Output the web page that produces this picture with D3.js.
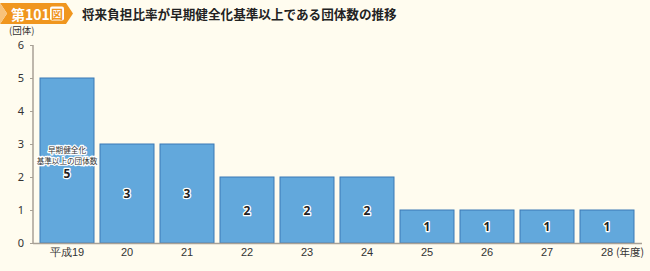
<!DOCTYPE html>
<html><head><meta charset="utf-8">
<script src="https://cdn.jsdelivr.net/npm/d3@7"></script>
<style>
html,body{margin:0;padding:0;background:#fffcef;}
svg{display:block;font-family:"Noto Sans CJK JP","Noto Sans",sans-serif;}
</style></head>
<body><svg id="c" width="650" height="271"></svg>
<script>
const categories = ["平成19","20","21","22","23","24","25","26","27","28"];
const values = [5,3,3,2,2,2,1,1,1,1];
const yTicks = [0,1,2,3,4,5,6];
const title = "将来負担比率が早期健全化基準以上である団体数の推移";
const badge = "第101";
const yUnit = "(団体)";
const xUnit = "(年度)";
const note = ["早期健全化","基準以上の団体数"];

const svg = d3.select("#c");
svg.append("rect").attr("width",650).attr("height",271).attr("fill","#fffcef");

// badge
svg.append("path").attr("d","M0,3 L66,3 L73,13.5 L66,24 L0,24 L7,13.5 Z").attr("fill","#f0961e");
svg.append("path").attr("d","M0,3 L7,13.5 L0,24 Z").attr("fill","#f8c27a");
svg.append("text").attr("x",11).attr("y",19.5).attr("fill","#fff").attr("font-size",14).attr("font-weight","bold").text(badge);
svg.append("rect").attr("x",50).attr("y",6.5).attr("width",14).attr("height",14).attr("rx",2).attr("fill","#fff");
svg.append("text").attr("x",57).attr("y",18.5).attr("text-anchor","middle").attr("fill","#f0961e").attr("font-size",12).attr("font-weight","bold").text("図");
svg.append("text").attr("x",82).attr("y",18.5).attr("fill","#222").attr("font-size",12.6).attr("font-weight","bold").text(title);

const x = d3.scaleBand().domain(categories).range([37,637]).paddingInner(0.1).paddingOuter(0.05);
const y = d3.scaleLinear().domain([0,6]).range([243,45]);

// bars
svg.selectAll("rect.bar").data(values).enter().append("rect").attr("class","bar")
  .attr("x",(d,i)=>x(categories[i])).attr("width",x.bandwidth())
  .attr("y",d=>y(d)).attr("height",d=>y(0)-y(d))
  .attr("fill","#62a8dc").attr("stroke","#3b78b5").attr("stroke-width",1);

// axes
const axisColor = "#a8a196";
const yAxis = svg.append("g").attr("transform","translate(33,0)")
  .call(d3.axisLeft(y).tickValues(yTicks).tickSize(3).tickPadding(6).tickFormat(d3.format("d")));
yAxis.select(".domain").attr("stroke",axisColor).attr("stroke-width",1.5).attr("d","M0,45V243");
yAxis.selectAll(".tick line").attr("stroke",axisColor);
yAxis.selectAll(".tick text").attr("fill","#333").attr("font-size",11).attr("font-family","'Noto Sans',sans-serif");

svg.append("line").attr("x1",33).attr("x2",642).attr("y1",243.5).attr("y2",243.5).attr("stroke",axisColor).attr("stroke-width",1.5);

const xAxis = svg.append("g").attr("transform","translate(0,243)")
  .call(d3.axisBottom(x).tickSize(0).tickPadding(5));
xAxis.select(".domain").remove();
xAxis.selectAll(".tick text").attr("fill","#333").attr("font-size",11);

svg.append("text").attr("x",x(categories[9])+x.bandwidth()/2+9).attr("y",255.5).attr("fill","#333").attr("font-size",10.5).text(xUnit);
svg.append("text").attr("x",9).attr("y",34).attr("fill","#333").attr("font-size",9.5).text(yUnit);

// value labels
function halo(sel){ return sel.attr("stroke","#fff").attr("stroke-width",2.5).attr("paint-order","stroke").attr("stroke-linejoin","round"); }
values.forEach((v,i)=>{
  const cx = x(categories[i])+x.bandwidth()/2;
  let cy = (y(v)+y(0))/2;
  if(i===0){
    halo(svg.append("text").attr("x",cx).attr("y",cy-8).attr("text-anchor","middle").attr("fill","#333").attr("font-size",7.6).text(note[0]));
    halo(svg.append("text").attr("x",cx).attr("y",cy+3.5).attr("text-anchor","middle").attr("fill","#333").attr("font-size",7.6).text(note[1]));
    cy = 173;
  }
  halo(svg.append("text").attr("x",cx).attr("y",cy+4.5).attr("text-anchor","middle").attr("fill","#222").attr("font-size",12).attr("font-weight","bold").attr("font-family","'Noto Sans',sans-serif").text(v));
});
</script></body></html>
